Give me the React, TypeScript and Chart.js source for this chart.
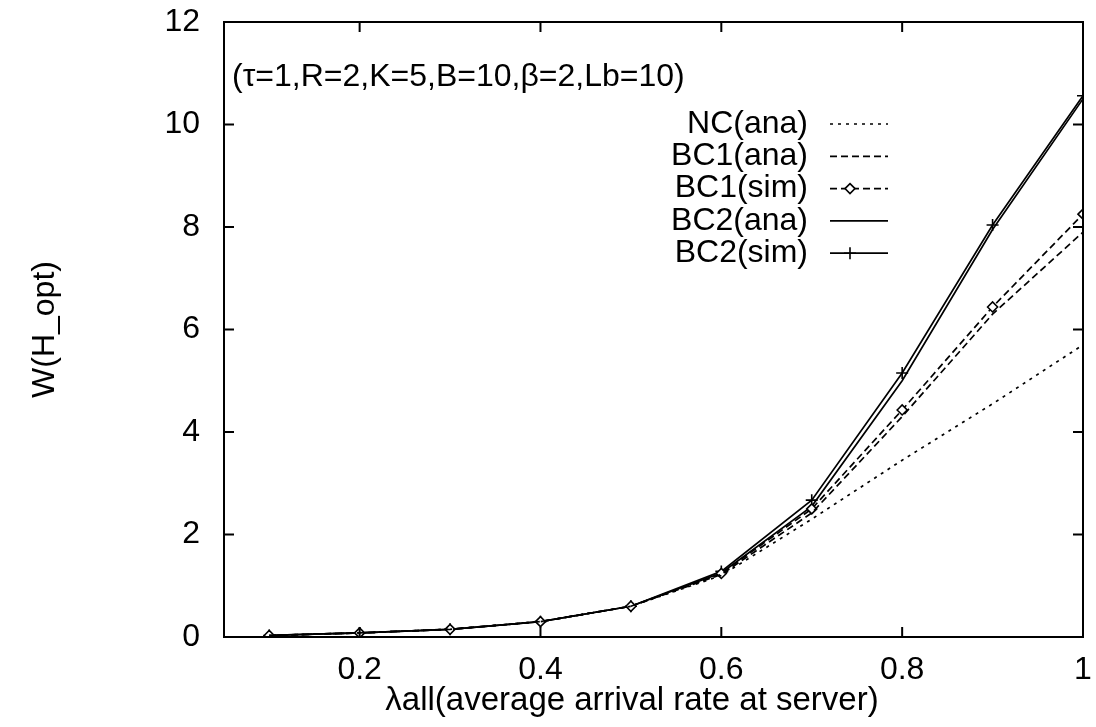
import React, { useEffect, useRef } from "react";
import { Chart, registerables } from "chart.js";

Chart.register(...registerables);

const xValues = [0.1, 0.2, 0.3, 0.4, 0.5, 0.6, 0.7, 0.8, 0.9, 1.0];
const ncAna = [0.03, 0.08, 0.15, 0.3, 0.6, 1.2, 2.3, 3.45, 4.55, 5.7];
const bc1Ana = [0.03, 0.08, 0.15, 0.3, 0.6, 1.22, 2.42, 4.3, 6.3, 7.9];
const bc1Sim = [0.03, 0.08, 0.15, 0.3, 0.6, 1.24, 2.5, 4.43, 6.44, 8.25];
const bc2Ana = [0.03, 0.08, 0.15, 0.3, 0.6, 1.25, 2.55, 5.0, 7.95, 10.5];
const bc2Sim = [0.03, 0.08, 0.15, 0.3, 0.6, 1.28, 2.67, 5.15, 8.04, 10.56];

const xTicks = [0.2, 0.4, 0.6, 0.8, 1];
const yTicks = [0, 2, 4, 6, 8, 10, 12];
const seriesLabels = ["NC(ana)", "BC1(ana)", "BC1(sim)", "BC2(ana)", "BC2(sim)"];
const xTitle = "λall(average arrival rate at server)";
const yTitle = "W(H_opt)";
const annotation = "(τ=1,R=2,K=5,B=10,β=2,Lb=10)";

const FONT = "'Liberation Sans', Arial, Helvetica, sans-serif";

const toPoints = (ys: number[]) => ys.map((y, i) => ({ x: xValues[i], y }));

const framePlugin = {
  id: "gnuplotFrame",
  afterDraw(chart: any) {
    const { ctx, chartArea: a, scales } = chart;
    const xs = scales.x;
    const ys = scales.y;
    ctx.save();
    ctx.strokeStyle = "#000";
    ctx.lineWidth = 2;
    ctx.strokeRect(a.left, a.top, a.right - a.left, a.bottom - a.top);
    const tl = 10;
    ctx.beginPath();
    xTicks.forEach((v) => {
      const px = xs.getPixelForValue(v);
      ctx.moveTo(px, a.bottom);
      ctx.lineTo(px, a.bottom - tl);
      ctx.moveTo(px, a.top);
      ctx.lineTo(px, a.top + tl);
    });
    yTicks.forEach((v) => {
      const py = ys.getPixelForValue(v);
      ctx.moveTo(a.left, py);
      ctx.lineTo(a.left + tl, py);
      ctx.moveTo(a.right, py);
      ctx.lineTo(a.right - tl, py);
    });
    ctx.stroke();

    // x axis title
    ctx.fillStyle = "#000";
    ctx.font = `33px ${FONT}`;
    ctx.textAlign = "center";
    ctx.textBaseline = "middle";
    ctx.fillText(xTitle, a.left + 408, a.bottom + 64);

    // annotation
    ctx.font = `32px ${FONT}`;
    ctx.textAlign = "left";
    ctx.fillText(annotation, a.left + 8, a.top + 55);

    // legend
    const textRight = a.left + 584;
    const lineStart = a.left + 606;
    const lineEnd = a.left + 664;
    const markX = a.left + 626;
    const rowTop = a.top + 102;
    const rowGap = 32.3;
    chart.data.datasets.forEach((ds: any, i: number) => {
      const y = rowTop + i * rowGap;
      ctx.fillStyle = "#000";
      ctx.textAlign = "right";
      ctx.textBaseline = "middle";
      ctx.fillText(ds.label, textRight, y);
      ctx.save();
      ctx.strokeStyle = "#000";
      ctx.lineWidth = ds.borderWidth;
      ctx.setLineDash(ds.borderDash || []);
      ctx.beginPath();
      ctx.moveTo(lineStart, y);
      ctx.lineTo(lineEnd, y);
      ctx.stroke();
      ctx.restore();
      if (ds.pointRadius > 0) {
        ctx.save();
        ctx.strokeStyle = "#000";
        ctx.fillStyle = "#fff";
        ctx.lineWidth = 1.6;
        const r = ds.pointRadius;
        ctx.beginPath();
        if (ds.pointStyle === "rectRot") {
          ctx.moveTo(markX, y - r);
          ctx.lineTo(markX + r, y);
          ctx.lineTo(markX, y + r);
          ctx.lineTo(markX - r, y);
          ctx.closePath();
          ctx.fill();
          ctx.stroke();
        } else {
          ctx.moveTo(markX - r, y);
          ctx.lineTo(markX + r, y);
          ctx.moveTo(markX, y - r);
          ctx.lineTo(markX, y + r);
          ctx.stroke();
        }
        ctx.restore();
      }
    });
    ctx.restore();
  },
};

export default function App() {
  const canvasRef = useRef<HTMLCanvasElement | null>(null);

  useEffect(() => {
    document.body.style.margin = "0";
    const canvas = canvasRef.current;
    if (!canvas) return;
    const common = {
      borderColor: "#000",
      backgroundColor: "#fff",
      fill: false,
      tension: 0,
      borderWidth: 1.7,
      pointBorderColor: "#000",
      pointBackgroundColor: "#fff",
      pointBorderWidth: 1.6,
    };
    const chart = new Chart(canvas, {
      type: "line",
      data: {
        datasets: [
          { ...common, label: seriesLabels[0], data: toPoints(ncAna), borderDash: [3, 5], pointRadius: 0 },
          { ...common, label: seriesLabels[1], data: toPoints(bc1Ana), borderDash: [7, 4], pointRadius: 0 },
          { ...common, label: seriesLabels[2], data: toPoints(bc1Sim), borderDash: [7, 4], pointRadius: 5, pointStyle: "rectRot" },
          { ...common, label: seriesLabels[3], data: toPoints(bc2Ana), borderDash: [], pointRadius: 0 },
          { ...common, label: seriesLabels[4], data: toPoints(bc2Sim), borderDash: [], pointRadius: 6, pointStyle: "cross" },
        ] as any,
      },
      options: {
        animation: false,
        responsive: true,
        maintainAspectRatio: false,
        layout: { padding: { top: 22, right: 13, left: 0, bottom: 0 } },
        plugins: { legend: { display: false }, tooltip: { enabled: false } },
        scales: {
          x: {
            type: "linear",
            min: 0.05,
            max: 1,
            grid: { display: false, drawTicks: false },
            border: { display: false },
            afterBuildTicks: (scale: any) => {
              scale.ticks = xTicks.map((v) => ({ value: v }));
            },
            afterFit: (scale: any) => {
              scale.height = 90;
              scale.paddingLeft = 0;
              scale.paddingRight = 0;
            },
            ticks: {
              color: "#000",
              padding: 14,
              maxRotation: 0,
              autoSkip: false,
              font: { family: FONT, size: 32 },
              callback: (v: any) => String(Number(v)),
            },
            title: { display: false },
          },
          y: {
            type: "linear",
            min: 0,
            max: 12,
            grid: { display: false, drawTicks: false },
            border: { display: false },
            afterBuildTicks: (scale: any) => {
              scale.ticks = yTicks.map((v) => ({ value: v }));
            },
            afterFit: (scale: any) => {
              scale.width = 224;
              scale.paddingTop = 0;
              scale.paddingBottom = 0;
            },
            ticks: {
              color: "#000",
              padding: 24,
              autoSkip: false,
              font: { family: FONT, size: 32 },
              callback: (v: any) => String(Number(v)),
            },
            title: {
              display: true,
              text: yTitle,
              color: "#000",
              font: { family: FONT, size: 32, lineHeight: 1.2 },
              padding: { top: 26, bottom: 0 },
            },
          },
        },
      } as any,
      plugins: [framePlugin],
    });
    return () => chart.destroy();
  }, []);

  return (
    <div style={{ width: 1096, height: 727, position: "relative", background: "#fff" }}>
      <canvas ref={canvasRef} />
    </div>
  );
}
